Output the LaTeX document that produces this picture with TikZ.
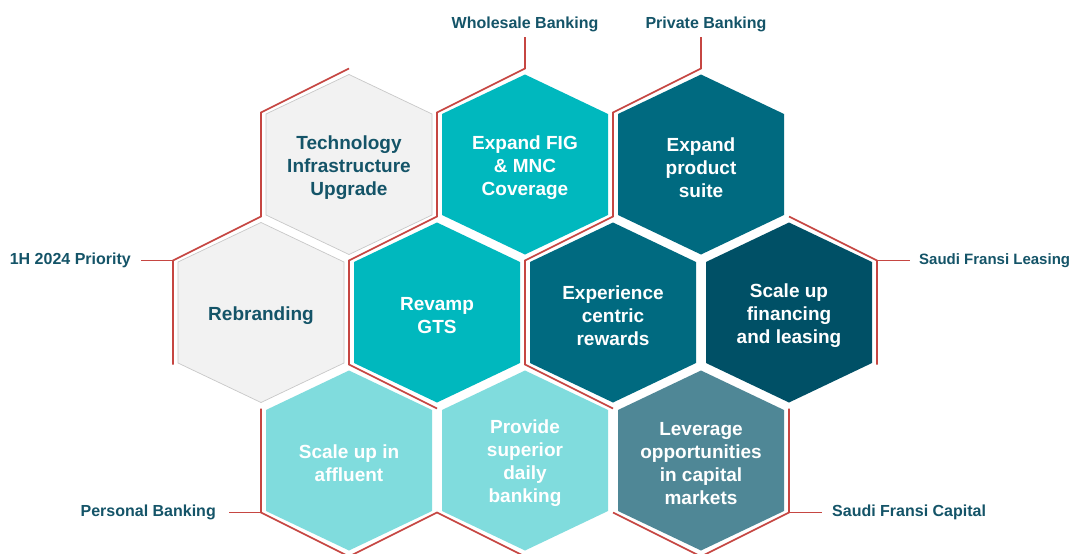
\documentclass[tikz,border=0pt]{standalone}
\usepackage{fontspec}
\setmainfont{Liberation Sans}
\usetikzlibrary{calc}
\definecolor{redl}{RGB}{198,70,66}
\definecolor{txtc}{RGB}{20,84,104}
\definecolor{grayf}{RGB}{242,242,242}
\definecolor{grayb}{RGB}{200,200,200}
\definecolor{tealA}{RGB}{0,184,190}
\definecolor{tealB}{RGB}{0,106,128}
\definecolor{tealC}{RGB}{0,80,102}
\definecolor{tealD}{RGB}{128,220,221}
\definecolor{tealE}{RGB}{79,135,150}
\tikzset{
  hextext/.style={align=center,font=\bfseries\fontsize{19}{23}\selectfont,inner sep=0pt,yshift=-3pt},
  grayhex/.style={fill=grayf,draw=grayb,line width=0.7pt},
  hexA/.style={fill=tealA},
  hexB/.style={fill=tealB},
  hexC/.style={fill=tealC},
  hexD/.style={fill=tealD},
  hexE/.style={fill=tealE},
  redline/.style={draw=redl,line width=1.6pt,line join=miter},
  seglabel/.style={text=txtc,font=\bfseries\fontsize{16}{18}\selectfont,inner xsep=10pt,inner ysep=5pt}
}
\newcommand{\hexcell}[6]{%
  \path[#4] (#2,#3) +(0,-90) -- +(83,-50.5) -- +(83,50.5) -- +(0,90) -- +(-83,50.5) -- +(-83,-50.5) -- cycle;
  \node[hextext,text=#5] (#1) at (#2,#3) {#6};
  \coordinate (#1-n) at (#2,#3-96);
  \coordinate (#1-ne) at (#2+88,#3-52);
  \coordinate (#1-se) at (#2+88,#3+52);
  \coordinate (#1-s) at (#2,#3+96);
  \coordinate (#1-sw) at (#2-88,#3+52);
  \coordinate (#1-nw) at (#2-88,#3-52);
}
\begin{document}
\begin{tikzpicture}[x=1pt,y=-1pt]
\useasboundingbox[fill=white] (0,0) rectangle (1074,554);
% row 1
\hexcell{tech}{349}{164.5}{grayhex}{txtc}{Technology\\Infrastructure\\Upgrade}
\hexcell{fig}{525}{164.5}{hexA}{white}{Expand FIG\\\& MNC\\Coverage}
\hexcell{ps}{701}{164.5}{hexB}{white}{Expand\\product\\suite}
% row 2
\hexcell{reb}{261}{312.5}{grayhex}{txtc}{Rebranding}
\hexcell{gts}{437}{312.5}{hexA}{white}{Revamp\\GTS}
\hexcell{exp}{613}{312.5}{hexB}{white}{Experience\\centric\\rewards}
\hexcell{fin}{789}{312.5}{hexC}{white}{Scale up\\financing\\and leasing}
% row 3
\hexcell{aff}{349}{460.5}{hexD}{white}{Scale up in\\affluent}
\hexcell{prov}{525}{460.5}{hexD}{white}{Provide\\superior\\daily\\banking}
\hexcell{lev}{701}{460.5}{hexE}{white}{Leverage\\opportunities\\in capital\\markets}
% labels
\node[seglabel,anchor=east] (l1h) at (141,260.5) {1H 2024 Priority};
\node[seglabel,anchor=south,inner ysep=5pt] (lwb) at (525,37) {Wholesale Banking};
\node[seglabel,anchor=south,inner ysep=5pt] (lpb) at (706,37) {Private Banking};
\node[seglabel,anchor=west,inner xsep=9pt,font=\bfseries\fontsize{15}{18}\selectfont] (lsfl) at (910,260.5) {Saudi Fransi Leasing};
\node[seglabel,anchor=east,inner xsep=13pt] (lper) at (229,512.5) {Personal Banking};
\node[seglabel,anchor=west] (lsfc) at (822,512.5) {Saudi Fransi Capital};
% red outlines
\draw[redline] (tech-n) -- (tech-nw) -- (tech-sw) -- (reb-nw) -- (reb-sw);
\draw[redline] (l1h.east) -- (reb-nw);
\draw[redline] (fig-n |- lwb.south) -- (fig-n) -- (fig-nw) -- (fig-sw) -- (gts-nw) -- (gts-sw) -- (gts-s);
\draw[redline] (ps-n |- lpb.south) -- (ps-n) -- (ps-nw) -- (ps-sw) -- (exp-nw) -- (exp-sw) -- (exp-s);
\draw[redline] (fin-n) -- (fin-ne) -- (fin-se);
\draw[redline] (fin-ne) -- (lsfl.west);
\draw[redline] (aff-nw) -- (aff-sw) -- (aff-s) -- (aff-se) -- (prov-s);
\draw[redline] (lper.east) -- (aff-sw);
\draw[redline] (lev-sw) -- (lev-s) -- (lev-se) -- (lev-ne);
\draw[redline] (lev-se) -- (lsfc.west);
\end{tikzpicture}
\end{document}
